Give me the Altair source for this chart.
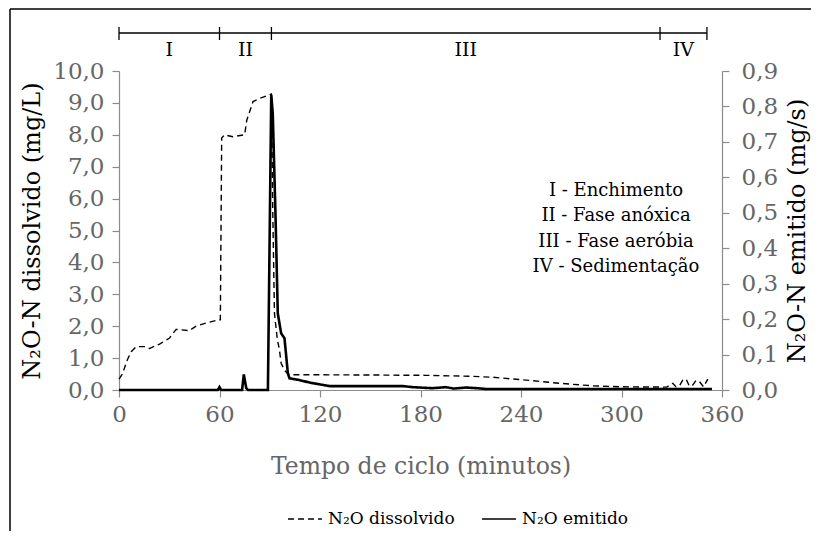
import altair as alt
import pandas as pd

# ---------------- data ----------------
t_diss = [0, 2, 5, 7.3, 10.3, 15.2, 18.2, 24.2, 30, 34.1, 42, 46, 52, 59.6,
          60.5, 61.3, 63, 68, 75, 76.3, 80, 84, 91,
          91.8, 92.8, 94.5, 95.8, 96.8, 98.8, 101, 103,
          150, 183, 210, 223, 243, 263, 283, 300, 327,
          330.6, 332.5, 334.6, 336.5, 338.6, 340.5, 342.6, 344.5, 346.6, 349, 351.5]
v_diss = [0.34, 0.5, 0.95, 1.2, 1.36, 1.36, 1.3, 1.44, 1.62, 1.9, 1.86, 2.0, 2.1, 2.2,
          2.2, 7.9, 8.0, 7.94, 8.0, 8.46, 9.04, 9.14, 9.28,
          5.6, 2.4, 1.6, 1.25, 0.84, 0.62, 0.5, 0.48,
          0.47, 0.46, 0.43, 0.40, 0.31, 0.21, 0.13, 0.10, 0.09,
          0.21, 0.10, 0.13, 0.30, 0.34, 0.12, 0.16, 0.30, 0.26, 0.10, 0.34]

t_emit = [0, 59, 60, 61, 73.5, 74.5, 76, 77, 88.9, 90.9, 91.8, 93.4, 94.8, 96.8,
          98.8, 100.8, 101.8, 107.8, 113.7, 125.7, 169.5, 175.4, 187, 195, 200,
          207, 214, 219, 354]
v_emit = [0, 0, 0.008, 0, 0, 0.044, 0.005, 0, 0, 0.832, 0.78, 0.5, 0.216, 0.16,
          0.146, 0.047, 0.033, 0.028, 0.021, 0.011, 0.011, 0.008, 0.005, 0.008, 0.004,
          0.007, 0.005, 0.003, 0.003]

phase_bounds = [0, 60, 91, 323, 351]
phase_names = ["I", "II", "III", "IV"]
series_names = ["N\u2082O dissolvido", "N\u2082O emitido"]
notes = ["I - Enchimento", "II - Fase anóxica", "III - Fase aeróbia", "IV - Sedimentação"]
x_ticks = [0, 60, 120, 180, 240, 300, 360]
yl_ticks = [0, 1, 2, 3, 4, 5, 6, 7, 8, 9, 10]
yr_ticks = [0, 0.1, 0.2, 0.3, 0.4, 0.5, 0.6, 0.7, 0.8, 0.9]

FONT = "DejaVu Serif"
AX = "#8c8c8c"
TX = "#666666"

df_d = pd.DataFrame({"t": t_diss, "v": v_diss, "serie": series_names[0]})
df_e = pd.DataFrame({"t": t_emit, "v": v_emit, "serie": series_names[1]})
df_bounds = pd.DataFrame({"t": phase_bounds})
df_bar = pd.DataFrame({"t": [phase_bounds[0]], "t_end": [phase_bounds[-1]]})
df_lab = pd.DataFrame({
    "t": [(phase_bounds[i] + phase_bounds[i + 1]) / 2 for i in range(len(phase_names))],
    "name": phase_names,
})
df_one = pd.DataFrame({"note": ["\n".join(notes)]})

xscale = alt.Scale(domain=[0, 360], nice=False, zero=False)
xaxis = alt.Axis(values=x_ticks, title="Tempo de ciclo (minutos)", titlePadding=28,
                 titleFontSize=23.5)

def X(field="t"):
    return alt.X(f"{field}:Q", scale=xscale, axis=xaxis)

dash = alt.StrokeDash(
    "serie:N",
    scale=alt.Scale(domain=series_names, range=[[6, 4], [1, 0]]),
    legend=alt.Legend(
        title=None, orient="none", legendX=168, legendY=430, direction="horizontal",
        symbolType="stroke", symbolSize=1150, symbolStrokeWidth=1.5,
        symbolStrokeColor="black", labelFont=FONT, labelFontSize=17,
        labelColor="black", columnPadding=24, labelOffset=5,
    ),
)

frame_left = alt.Chart(df_one).mark_rule(color="black", strokeWidth=1.5).encode(
    x=alt.value(-109), y=alt.value(-62), y2=alt.value(480))
frame_top = alt.Chart(df_one).mark_rule(color="black", strokeWidth=1.5).encode(
    x=alt.value(-109), x2=alt.value(720), y=alt.value(-62))

bar = alt.Chart(df_bar).mark_rule(color="black", strokeWidth=1.3).encode(
    x=X(), x2="t_end:Q", y=alt.value(-38))
ticks = alt.Chart(df_bounds).mark_rule(color="black", strokeWidth=1.3).encode(
    x=X(), y=alt.value(-44), y2=alt.value(-31))
labs = alt.Chart(df_lab).mark_text(font=FONT, fontSize=19, color="black", baseline="middle").encode(
    x=X(), y=alt.value(-21), text="name:N")

dissolved = alt.Chart(df_d).mark_line(color="black", strokeWidth=1.4).encode(
    x=X(),
    y=alt.Y("v:Q", scale=alt.Scale(domain=[0, 10], nice=False),
            axis=alt.Axis(orient="left", values=yl_ticks, title="N\u2082O-N dissolvido (mg/L)",
                          labelExpr="replace(format(datum.value, '.1f'), '.', ',')",
                          labelPadding=8, titlePadding=8)),
    strokeDash=dash,
    order="t:Q",
)

emitted = alt.Chart(df_e).mark_line(color="black", strokeWidth=2.6).encode(
    x=X(),
    y=alt.Y("v:Q", scale=alt.Scale(domain=[0, 0.9], nice=False),
            axis=alt.Axis(orient="right", values=yr_ticks, title="N\u2082O-N emitido (mg/s)",
                          labelExpr="replace(format(datum.value, '.1f'), '.', ',')",
                          labelPadding=12,
                          titleAngle=270, titleBaseline="top", titlePadding=8)),
    strokeDash=dash,
    order="t:Q",
)

note = alt.Chart(df_one).mark_text(
    font=FONT, fontSize=18, color="black", align="center", baseline="top",
    lineBreak="\n", lineHeight=25.3,
).encode(x=alt.value(497), y=alt.value(111), text="note:N")

chart = alt.layer(
    frame_left, frame_top, bar, ticks, labs, dissolved, emitted, note
).resolve_scale(y="independent").properties(
    width=603, height=319,
    autosize=alt.AutoSizeParams(type="none"),
    padding={"left": 111, "top": 63, "right": 89, "bottom": 141},
).configure_view(stroke=None).configure_axis(
    grid=False, domainColor=AX, tickColor=AX, tickSize=7, domainWidth=1.2, tickWidth=1.2,
    labelFont=FONT, labelFontSize=23, labelColor=TX, labelPadding=6, labelFlush=False,
    titleFont=FONT, titleFontSize=24, titleFontWeight="normal",
).configure_axisX(titleColor=TX).configure_axisY(titleColor="black")

chart.save("out.html", embed_options={"renderer": "svg", "actions": False})
